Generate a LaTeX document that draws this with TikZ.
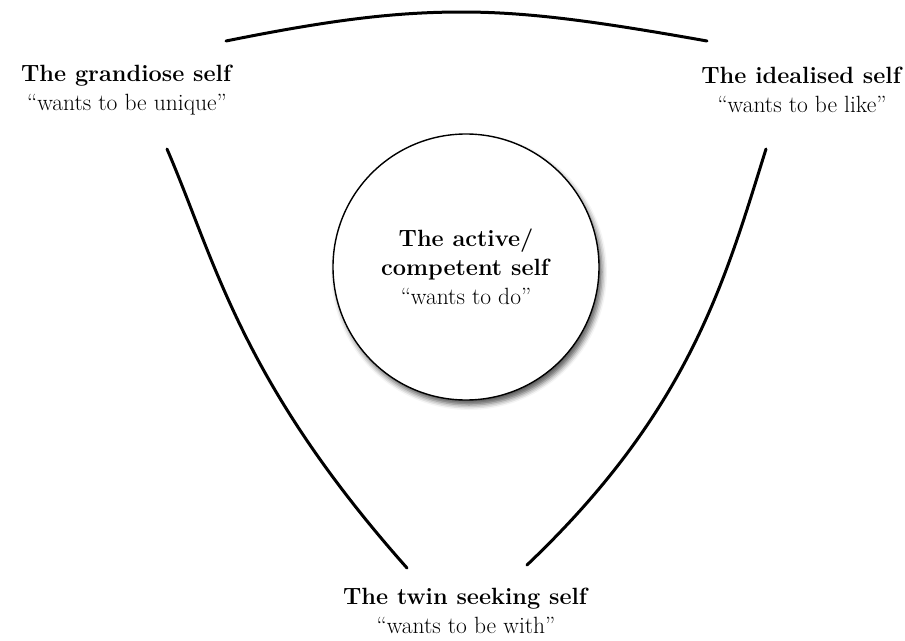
\documentclass[tikz,border=0pt]{standalone}
\usetikzlibrary{shadows.blur}
\tikzset{
  label text/.style={align=center, font=\fontsize{23.5}{29}\selectfont, inner sep=0pt},
  bound/.style={line width=3pt, line cap=round, black},
  core/.style={circle, draw=black, line width=1.4pt, fill=white, minimum size=266pt,
    inner sep=0pt, align=center, font=\fontsize{23.5}{29}\selectfont,
    blur shadow={shadow xshift=3pt, shadow yshift=-5pt, shadow blur radius=5pt, shadow opacity=65}}
}
\begin{document}
\begin{tikzpicture}[x=1pt, y=-1pt]
  \useasboundingbox (0,0) rectangle (905,640);

  % the three selves around the outside
  \node[label text] (grand) at (127,90) {\textbf{The grandiose self}\\``wants to be unique''};
  \node[label text] (ideal) at (802,90) {\textbf{The idealised self}\\``wants to be like''};
  \node[label text] (twin) at (466,611) {\textbf{The twin seeking self}\\``wants to be with''};

  % the central self
  \node[core] (active) at (466,267) {\textbf{The active/}\\\textbf{competent self}\\``wants to do''};

  % boundary curves between the outer selves
  \coordinate (tl) at (226,41);
  \coordinate (tp) at (462,12);
  \coordinate (tr) at (707,41);
  \draw[bound] (tl) .. controls (330,20) and (395,12) .. (tp)
                    .. controls (530,12) and (600,22) .. (tr);

  \coordinate (ls) at (167,149);
  \coordinate (le) at (407,568);
  \draw[bound] (ls) .. controls (215,260) and (240,380) .. (le);

  \coordinate (rs) at (766,149);
  \coordinate (re) at (527,565);
  \draw[bound] (rs) .. controls (725,280) and (690,410) .. (re);
\end{tikzpicture}
\end{document}
